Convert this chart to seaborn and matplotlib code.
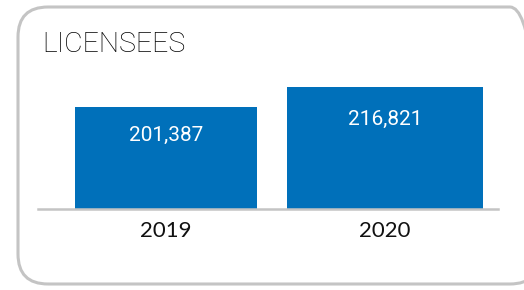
import matplotlib
matplotlib.use("Agg")
import matplotlib.pyplot as plt
import seaborn as sns
from matplotlib.patches import FancyBboxPatch
from matplotlib.transforms import IdentityTransform

# Chart data
years = ["2019", "2020"]
licensees = [201387, 216821]
value_labels = ["201,387", "216,821"]

BAR_COLOR = "#0070BA"
BORDER_COLOR = "#C4C4C4"

sns.set_theme(style="white")
plt.rcParams["font.family"] = ["Lato", "DejaVu Sans"]

W, H, DPI = 524, 290, 100
fig = plt.figure(figsize=(W / DPI, H / DPI), dpi=DPI)
fig.patch.set_facecolor("white")

# Rounded card border (pixel coordinates, origin bottom-left)
card = FancyBboxPatch((18 + 30, 6 + 30), 540 - 18 - 60, 283 - 6 - 60,
                      boxstyle="round,pad=30", transform=IdentityTransform(),
                      facecolor="none", edgecolor=BORDER_COLOR, linewidth=2.2,
                      figure=fig, zorder=-1)
fig.patches.append(card)

# Axes placement: baseline at y=208.5 px, x from 38 to 498 px
ax_left, ax_right = 38, 498
ax_bottom, ax_top = H - 208.5, H - 60
ax = fig.add_axes([ax_left / W, ax_bottom / H,
                   (ax_right - ax_left) / W, (ax_top - ax_bottom) / H])

sns.barplot(x=years, y=licensees, color=BAR_COLOR, saturation=1,
            width=0.86, ax=ax)

# bars in the original are slightly different widths
for patch, w in zip(ax.patches, [0.83, 0.895]):
    cx = patch.get_x() + patch.get_width() / 2
    patch.set_width(w)
    patch.set_x(cx - w / 2)
    patch.set_edgecolor("none")

ax.set_xlim(-0.584, 1.516)
ax.set_ylim(123000, 123000 + 148.5 * 771.7)

for i, (v, lab) in enumerate(zip(licensees, value_labels)):
    ax.annotate(lab, (i, v), xytext=(0, -20.5 - 3 * i), textcoords="offset points",
                ha="center", va="center", color="white", fontsize=15,
                family=["Roboto", "DejaVu Sans"])

for s in ["top", "left", "right"]:
    ax.spines[s].set_visible(False)
ax.spines["bottom"].set_color(BORDER_COLOR)
ax.spines["bottom"].set_linewidth(1.8)
ax.set_yticks([])
ax.set_xlabel("")
ax.set_ylabel("")
ax.tick_params(axis="x", length=0, pad=9, labelsize=16, labelcolor="#111111")
ax.patch.set_alpha(0)

fig.text(42 / W, 1 - 45 / H, "LICENSEES", fontsize=20.5, fontweight="light",
         family=["Roboto", "DejaVu Sans"], color="#000000",
         ha="left", va="center")

fig.savefig("out.png", dpi=DPI)
